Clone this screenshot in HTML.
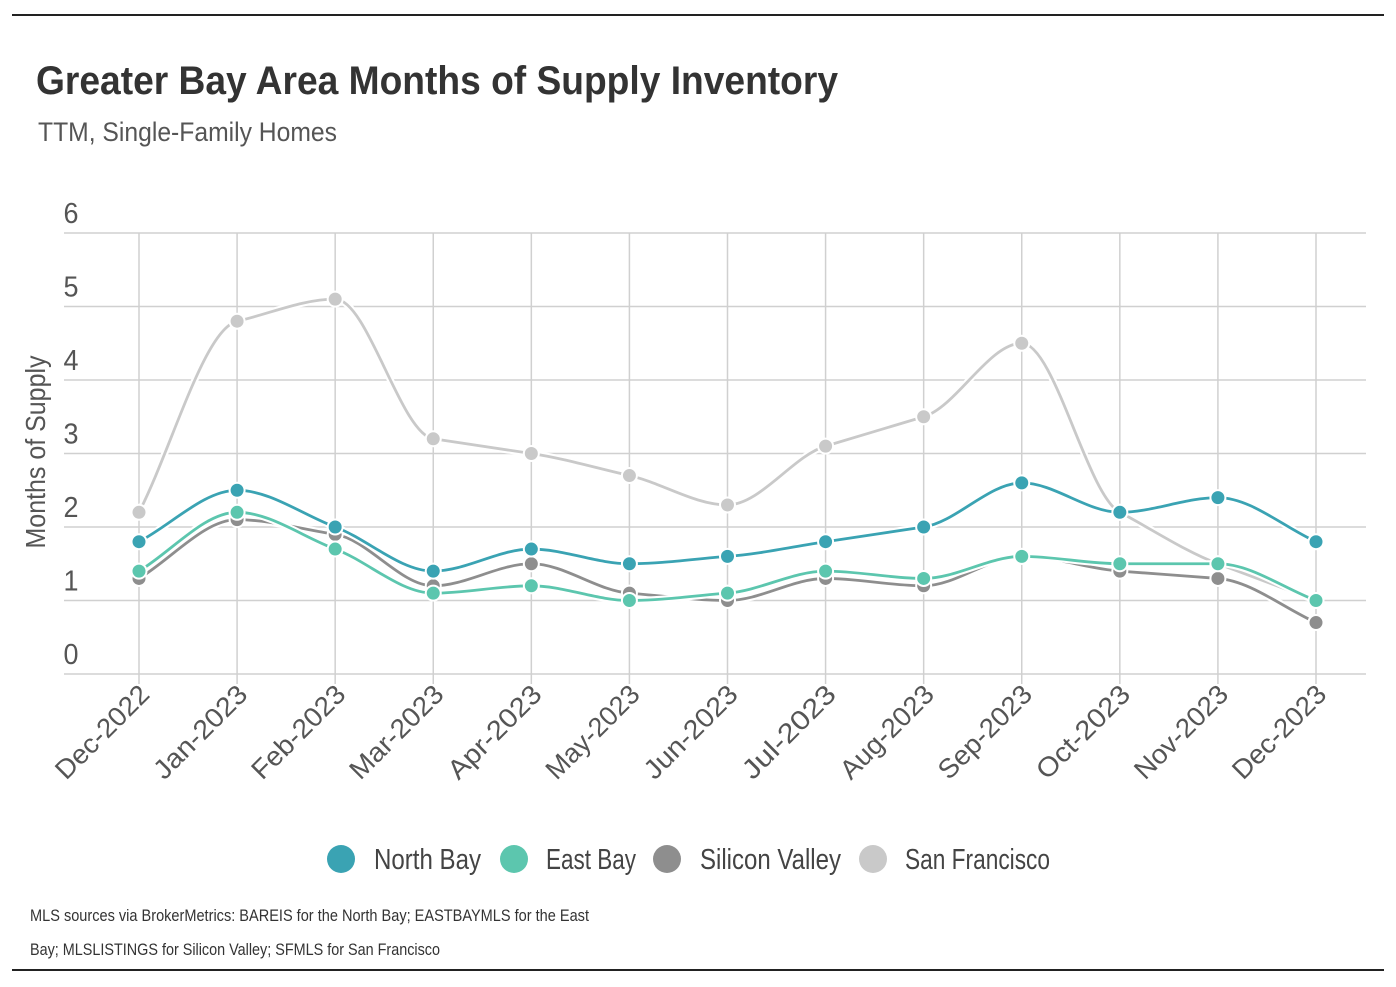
<!DOCTYPE html>
<html><head><meta charset="utf-8">
<style>
body{margin:0;background:#fff;width:1396px;height:982px;overflow:hidden;font-family:"Liberation Sans",sans-serif;}
svg text{font-family:"Liberation Sans",sans-serif;}
</style></head>
<body>
<svg id="chart" width="1396" height="982" xmlns="http://www.w3.org/2000/svg">
<line x1="12" y1="15" x2="1384" y2="15" stroke="#222" stroke-width="2"/>
<line x1="12" y1="970" x2="1384" y2="970" stroke="#222" stroke-width="2"/>
<text x="36" y="94" font-size="40" font-weight="bold" fill="#333" textLength="802" lengthAdjust="spacingAndGlyphs">Greater Bay Area Months of Supply Inventory</text>
<text x="38" y="141" font-size="27" fill="#555" textLength="299" lengthAdjust="spacingAndGlyphs">TTM, Single-Family Homes</text>
<text transform="translate(45,452) rotate(-90)" text-anchor="middle" font-size="28" fill="#555" textLength="193" lengthAdjust="spacingAndGlyphs">Months of Supply</text>
<g id="grid"></g>
<g id="series"></g>
<g id="xlabels"></g>
<g>
<circle cx="341" cy="859" r="14" fill="#3aa3b3"/>
<text x="374" y="869" font-size="29" fill="#444" textLength="107" lengthAdjust="spacingAndGlyphs">North Bay</text>
<circle cx="514" cy="859" r="14" fill="#5cc6ae"/>
<text x="546" y="869" font-size="29" fill="#444" textLength="90" lengthAdjust="spacingAndGlyphs">East Bay</text>
<circle cx="667" cy="859" r="14" fill="#8e8e8e"/>
<text x="700" y="869" font-size="29" fill="#444" textLength="141" lengthAdjust="spacingAndGlyphs">Silicon Valley</text>
<circle cx="873" cy="859" r="14" fill="#c9c9c9"/>
<text x="905" y="869" font-size="29" fill="#444" textLength="145" lengthAdjust="spacingAndGlyphs">San Francisco</text>
</g>
<text x="30" y="921" font-size="17" fill="#333" textLength="559" lengthAdjust="spacingAndGlyphs">MLS sources via BrokerMetrics: BAREIS for the North Bay; EASTBAYMLS for the East</text>
<text x="30" y="955" font-size="17" fill="#333" textLength="410" lengthAdjust="spacingAndGlyphs">Bay; MLSLISTINGS for Silicon Valley; SFMLS for San Francisco</text>
</svg>
<script>
const categories=["Dec-2022","Jan-2023","Feb-2023","Mar-2023","Apr-2023","May-2023","Jun-2023","Jul-2023","Aug-2023","Sep-2023","Oct-2023","Nov-2023","Dec-2023"];
const yTicks=[0,1,2,3,4,5,6];
const northBay=[1.8,2.5,2.0,1.4,1.7,1.5,1.6,1.8,2.0,2.6,2.2,2.4,1.8];
const eastBay=[1.4,2.2,1.7,1.1,1.2,1.0,1.1,1.4,1.3,1.6,1.5,1.5,1.0];
const siliconValley=[1.3,2.1,1.9,1.2,1.5,1.1,1.0,1.3,1.2,1.6,1.4,1.3,0.7];
const sanFrancisco=[2.2,4.8,5.1,3.2,3.0,2.7,2.3,3.1,3.5,4.5,2.2,1.5,1.0];
const NS="http://www.w3.org/2000/svg";
const X0=139,X1=1316,Y0=674,Y6=233;
const xs=i=>X0+(X1-X0)*i/(categories.length-1);
const ys=v=>Y0-(Y0-Y6)*v/6;
function mk(tag,attrs,parent){const e=document.createElementNS(NS,tag);for(const k in attrs)e.setAttribute(k,attrs[k]);parent.appendChild(e);return e;}
const grid=document.getElementById('grid');
yTicks.forEach(t=>{
 const l=mk('line',{x1:64,x2:1366,y1:ys(t),y2:ys(t),stroke:'#d0d0d0','stroke-width':1.5},grid);
 
 
 const tx=mk('text',{x:71,y:ys(t)-10,'text-anchor':'middle','font-size':29,fill:'#555',textLength:15,lengthAdjust:'spacingAndGlyphs'},grid);
 tx.textContent=t;
 
 
});
const xl=document.getElementById('xlabels');
categories.forEach((c,i)=>{
 const l=mk('line',{x1:xs(i),x2:xs(i),y1:Y6,y2:Y0+10,stroke:'#d0d0d0','stroke-width':1.5},grid);
 
 
 const tx=mk('text',{transform:`translate(${xs(i)+12},${Y0+22}) rotate(-45)`,'text-anchor':'end','font-size':27,fill:'#555',textLength:120,lengthAdjust:'spacingAndGlyphs'},xl);
 tx.textContent=c;
 
 
});
function pathD(vals){
 const p=vals.map((v,i)=>[xs(i),ys(v)]);
 const n=p.length,h=p[1][0]-p[0][0];
 const s=[];for(let i=0;i<n-1;i++)s.push((p[i+1][1]-p[i][1])/h);
 const m=[];
 for(let i=0;i<n;i++){
  if(i===0)m.push(s[0]);else if(i===n-1)m.push(s[n-2]);
  else if(s[i-1]*s[i]<=0)m.push(0);
  else{const a=s[i-1],b=s[i];m.push(Math.sign(a)*Math.min(Math.abs(a),Math.abs(b),0.5*Math.abs(a+b)));}
 }
 let d=`M${p[0][0]},${p[0][1]}`;
 for(let i=0;i<n-1;i++){
  d+=` C${p[i][0]+h/3},${p[i][1]+m[i]*h/3} ${p[i+1][0]-h/3},${p[i+1][1]-m[i+1]*h/3} ${p[i+1][0]},${p[i+1][1]}`;
 }
 return d;
}
const sg=document.getElementById('series');
[[sanFrancisco,'#c9c9c9','san-francisco'],[siliconValley,'#8e8e8e','silicon-valley'],[eastBay,'#5cc6ae','east-bay'],[northBay,'#3aa3b3','north-bay']].forEach(([vals,col,name])=>{
 const g=mk('g',{},sg);
 
 
 mk('path',{d:pathD(vals),fill:'none',stroke:'#fff','stroke-width':7},g);
 const ln=mk('path',{d:pathD(vals),fill:'none',stroke:col,'stroke-width':2.8},g);
 
 
 vals.forEach((v,i)=>{
  const c=mk('circle',{cx:xs(i),cy:ys(v),r:7.5,fill:col,stroke:'#fff','stroke-width':2},g);
  
  
 });
});
</script>
</body></html>
